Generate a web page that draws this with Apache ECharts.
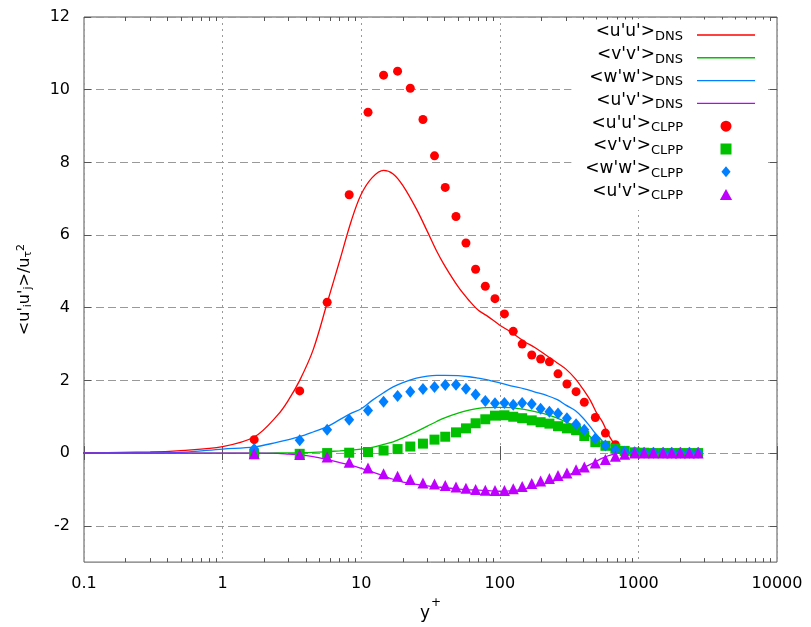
<!DOCTYPE html>
<html><head><meta charset="utf-8">
<script src="https://cdn.jsdelivr.net/npm/echarts@6/dist/echarts.min.js"></script>
<style>html,body{margin:0;padding:0;background:#fff}#c{width:811px;height:627px}</style>
</head><body><div id="c"></div>
<script>
// DNS profiles (lines)
const dnsYplus = [0.05, 0.3, 0.5, 1, 1.7, 2.5, 3.0, 3.6, 4.5, 5.7, 7, 8.5, 10, 12, 14.5, 17, 20, 25, 30, 35, 40, 50, 60, 70, 80, 100, 120, 150, 180, 220, 260, 300, 350, 400, 450, 500, 550, 600, 650, 700, 800, 900];
const dnsUU = [0, 0.03, 0.07, 0.18, 0.45, 1.05, 1.47, 2.0, 2.84, 4.15, 5.3, 6.4, 7.12, 7.58, 7.78, 7.68, 7.36, 6.72, 6.1, 5.56, 5.16, 4.58, 4.2, 3.93, 3.79, 3.52, 3.33, 3.07, 2.9, 2.67, 2.48, 2.31, 2.05, 1.75, 1.45, 1.1, 0.86, 0.55, 0.32, 0.15, 0.02, 0];
const dnsVV = [0, 0, 0, 0, 0, 0.003, 0.005, 0.01, 0.02, 0.04, 0.06, 0.08, 0.11, 0.16, 0.24, 0.31, 0.42, 0.59, 0.74, 0.87, 0.97, 1.1, 1.18, 1.23, 1.25, 1.26, 1.25, 1.2, 1.14, 1.06, 0.96, 0.86, 0.73, 0.6, 0.45, 0.33, 0.22, 0.12, 0.07, 0.03, 0.01, 0];
const dnsWW = [0, 0.005, 0.02, 0.11, 0.17, 0.3, 0.37, 0.45, 0.58, 0.73, 0.92, 1.1, 1.22, 1.45, 1.66, 1.82, 1.94, 2.06, 2.12, 2.14, 2.14, 2.13, 2.1, 2.06, 2.02, 1.93, 1.85, 1.77, 1.68, 1.58, 1.47, 1.32, 1.17, 0.96, 0.72, 0.5, 0.33, 0.17, 0.09, 0.04, 0.01, 0];
const dnsUV = [0, 0, 0, 0, 0, -0.01, -0.03, -0.05, -0.1, -0.18, -0.26, -0.34, -0.42, -0.52, -0.63, -0.72, -0.8, -0.86, -0.9, -0.93, -0.95, -0.99, -1.01, -1.02, -1.03, -1.05, -1.04, -0.99, -0.92, -0.83, -0.73, -0.63, -0.52, -0.41, -0.31, -0.22, -0.14, -0.08, -0.04, -0.01, 0, 0];

// CLPP model (markers)
const clppYplus = [1.69, 3.6, 5.68, 8.19, 11.2, 14.5, 18.3, 22.6, 27.9, 33.8, 40.4, 48.3, 57.0, 66.9, 78.6, 92.3, 108, 125, 145, 170, 197, 228, 263, 305, 355, 407, 489, 578, 682, 796, 940, 1099, 1283, 1507, 1740, 2009, 2333, 2698];
const clppUU = [0.37, 1.71, 4.15, 7.11, 9.38, 10.40, 10.51, 10.04, 9.18, 8.18, 7.31, 6.51, 5.78, 5.06, 4.59, 4.25, 3.83, 3.35, 3.0, 2.70, 2.59, 2.51, 2.18, 1.90, 1.69, 1.40, 0.98, 0.55, 0.23, 0.06, 0.03, 0.02, 0.02, 0.02, 0.02, 0.02, 0.02, 0.02];
const clppVV = [-0.03, -0.02, 0.0, 0.01, 0.03, 0.07, 0.11, 0.18, 0.26, 0.37, 0.45, 0.57, 0.68, 0.82, 0.93, 1.03, 1.04, 1.0, 0.96, 0.9, 0.85, 0.81, 0.74, 0.68, 0.63, 0.47, 0.30, 0.20, 0.12, 0.06, 0.02, 0.01, 0, 0, 0, 0, 0, 0];
const clppWW = [0.11, 0.35, 0.64, 0.92, 1.17, 1.41, 1.57, 1.69, 1.76, 1.82, 1.87, 1.88, 1.77, 1.61, 1.43, 1.37, 1.38, 1.33, 1.38, 1.35, 1.22, 1.14, 1.09, 0.96, 0.79, 0.64, 0.40, 0.21, 0.09, 0.04, 0.02, 0.01, 0.01, 0.01, 0.01, 0.01, 0.01, 0.01];
const clppUV = [-0.02, -0.04, -0.11, -0.25, -0.41, -0.57, -0.64, -0.73, -0.82, -0.85, -0.89, -0.93, -0.97, -1.0, -1.02, -1.03, -1.03, -0.98, -0.92, -0.84, -0.77, -0.70, -0.62, -0.55, -0.46, -0.38, -0.27, -0.18, -0.09, -0.03, 0, 0, 0, 0, 0, 0, 0, 0];

const xTicks = [0.1, 1, 10, 100, 1000, 10000];
const xMinorTicks = [0.2, 0.3, 0.4, 0.5, 0.6, 0.7, 0.8, 0.9, 2, 3, 4, 5, 6, 7, 8, 9, 20, 30, 40, 50, 60, 70, 80, 90, 200, 300, 400, 500, 600, 700, 800, 900, 2000, 3000, 4000, 5000, 6000, 7000, 8000, 9000];
const yTicks = [-2, 0, 2, 4, 6, 8, 10, 12];

const names = ["<u'u'>DNS", "<v'v'>DNS", "<w'w'>DNS", "<u'v'>DNS", "<u'u'>CLPP", "<v'v'>CLPP", "<w'w'>CLPP", "<u'v'>CLPP"];
const colors = ['#ff0000', '#00c000', '#0080ff', '#c000ff'];

const zip = (xs, ys) => xs.map((x, i) => [x, ys[i]]);
const FONT = 'DejaVu Sans';

const dnsSets = [dnsUU, dnsVV, dnsWW, dnsUV];
const clppSets = [clppUU, clppVV, clppWW, clppUV];
const symbols = ['circle', 'rect', 'diamond', 'triangle'];
const symSizes = [9, 10, [10, 12], 11];
const legendIcons = [
  'path://M0,0L58,0L58,1.4L0,1.4Z', 'path://M0,0L58,0L58,1.4L0,1.4Z', 'path://M0,0L58,0L58,1.4L0,1.4Z', 'path://M0,0L58,0L58,1.4L0,1.4Z',
  'path://M5,0A5,5,0,1,1,4.99,0Z', 'path://M0,0L10,0L10,10L0,10Z', 'path://M5,0L10,6L5,12L0,6Z', 'path://M5,0L10,9L0,9Z'
];

const series = [];
dnsSets.forEach((d, i) => series.push({
  name: names[i], type: 'line', data: zip(dnsYplus, d), symbol: 'none', smooth: 0.35,
  lineStyle: { color: colors[i], width: 1.3 }, itemStyle: { color: colors[i] }, clip: true, z: 2
}));
clppSets.forEach((d, i) => series.push({
  name: names[4 + i], type: 'scatter', data: zip(clppYplus, d), symbol: symbols[i],
  symbolSize: symSizes[i], itemStyle: { color: colors[i], opacity: 1 }, z: 3
}));

const tickStyle = { color: '#555' };

const option = {
  animation: false,
  backgroundColor: '#fff',
  grid: { left: 84, right: 34, top: 17, bottom: 64.5, show: true, borderColor: '#555', borderWidth: 1, containLabel: false },
  xAxis: [{
    type: 'log', logBase: 10, min: 0.1, max: 10000,
    name: '{a|y}{sup|+}', nameLocation: 'middle', nameGap: 34,
    nameTextStyle: { rich: { a: { fontFamily: FONT, fontSize: 17, color: '#000', padding: [8, 0, 0, 0] }, sup: { fontFamily: FONT, fontSize: 12, color: '#000', verticalAlign: 'top', padding: [0, 0, 0, 1] } } },
    axisLine: { show: false },
    axisTick: { show: true, inside: true, length: 7, lineStyle: tickStyle },
    axisLabel: { fontFamily: FONT, fontSize: 16, color: '#000', margin: 14,
      formatter: v => { const r = xTicks.find(t => Math.abs(Math.log10(t) - Math.log10(v)) < 1e-6); return r === undefined ? '' : String(r); } },
    splitLine: { show: true, lineStyle: { color: '#999', type: [2, 4], width: 1 } }
  }, {
    type: 'log', logBase: 10, min: 0.1, max: 10000, position: 'top',
    axisLine: { show: false },
    axisTick: { show: true, inside: true, length: 7, lineStyle: tickStyle },
    axisLabel: { show: false }, splitLine: { show: false }
  }, {
    type: 'log', logBase: 10, min: 0.1, max: 10000, position: 'bottom',
    axisLine: { show: false },
    axisTick: { show: true, inside: true, length: 4, lineStyle: tickStyle, customValues: xMinorTicks },
    axisLabel: { show: false }, splitLine: { show: false }
  }, {
    type: 'log', logBase: 10, min: 0.1, max: 10000, position: 'top',
    axisLine: { show: false },
    axisTick: { show: true, inside: true, length: 4, lineStyle: tickStyle, customValues: xMinorTicks },
    axisLabel: { show: false }, splitLine: { show: false }
  }],
  yAxis: [{
    type: 'value', min: -3, max: 12, interval: 1,
    name: "{a|<u'}{sub|i}{a|u'}{sub|j}{a|>/u}{sub|τ}{sup|2}", nameLocation: 'middle', nameGap: 50, nameRotate: 90,
    nameTextStyle: { rich: {
      a: { fontFamily: FONT, fontSize: 16, color: '#000', lineHeight: 18, padding: [6, 0, 6, 0] },
      sub: { fontFamily: FONT, fontSize: 11, color: '#000', verticalAlign: 'bottom', lineHeight: 12 },
      sup: { fontFamily: FONT, fontSize: 11, color: '#000', verticalAlign: 'top', lineHeight: 12 }
    } },
    axisLine: { show: false },
    axisTick: { show: true, inside: true, length: 7, lineStyle: tickStyle, customValues: yTicks },
    axisLabel: { fontFamily: FONT, fontSize: 16, color: '#000', margin: 14, customValues: yTicks,
      formatter: v => (yTicks.includes(v) ? String(v) : '') },
    splitLine: { show: true, lineStyle: { color: '#999', type: [8, 4], width: 1 } }
  }, {
    type: 'value', min: -3, max: 12, interval: 1, position: 'right',
    axisLine: { show: false },
    axisTick: { show: true, inside: true, length: 7, lineStyle: tickStyle, customValues: yTicks },
    axisLabel: { show: false }, splitLine: { show: false }
  }],
  legend: {
    orient: 'vertical', right: 46, top: 19.5, align: 'right',
    itemWidth: 58, itemHeight: 11, itemGap: -0.2,
    backgroundColor: '#fff', padding: [4, 10, 4, 14],
    data: names.map((n, i) => ({ name: n, icon: legendIcons[i] })),
    itemStyle: { borderWidth: 0 },
    formatter: n => { const m = n.match(/^(.*>)(DNS|CLPP)$/); return '{m|' + m[1] + '}{s|' + m[2] + '}'; },
    textStyle: { rich: {
      m: { fontFamily: FONT, fontSize: 17, color: '#000', lineHeight: 16, padding: [0, 0, 6, 0] },
      s: { fontFamily: FONT, fontSize: 13, color: '#000', lineHeight: 12, verticalAlign: 'bottom', padding: [0, 9, 0, 0] }
    } }
  },
  series
};
const chart = echarts.init(document.getElementById('c'), null, { renderer: 'canvas' });
chart.setOption(option);
</script></body></html>
